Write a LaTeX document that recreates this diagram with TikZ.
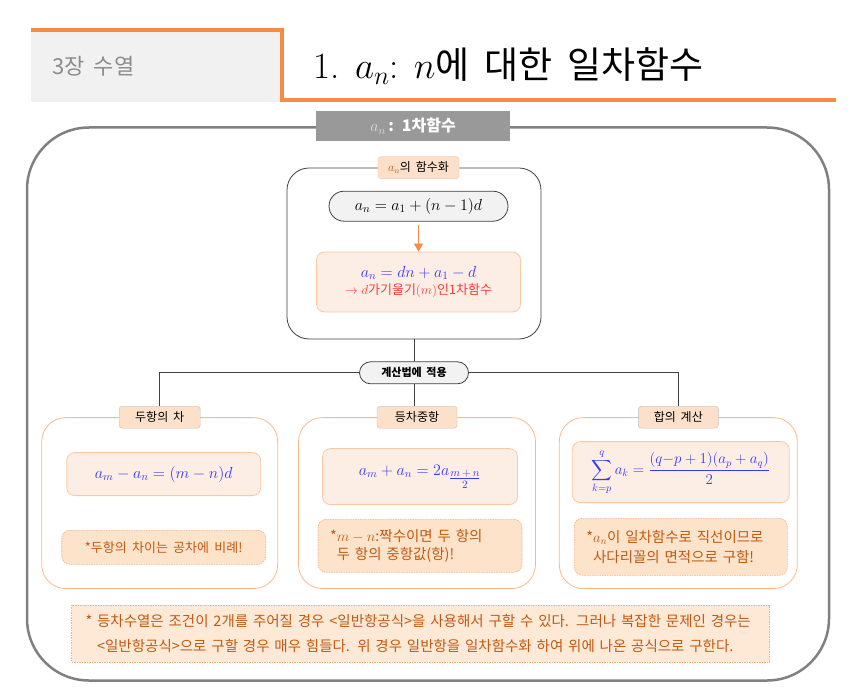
\RequirePackage{fix-cm}
\documentclass[tikz,border=0pt]{standalone}
\usepackage{amsmath}
\usepackage[no-math]{fontspec}
\newfontfamily\kr{Noto Sans CJK KR}
\newfontfamily\krw[WordSpace=1.8]{Noto Sans CJK KR}
\usetikzlibrary{positioning,arrows.meta,calc}
\definecolor{hdrorange}{HTML}{F58B45}
\definecolor{hdrgray}{HTML}{F1F1F1}
\definecolor{framegray}{HTML}{808080}
\definecolor{tagfill}{HTML}{FCE0CA}
\definecolor{eqfill}{HTML}{FDEEE5}
\definecolor{eqline}{HTML}{F8C9A4}
\definecolor{memofill}{HTML}{FDE3CA}
\definecolor{memoline}{HTML}{F4B183}
\definecolor{memotext}{HTML}{C05A12}
\definecolor{eqblue}{HTML}{3A3AF5}
\definecolor{eqred}{HTML}{FF3B3B}
\definecolor{boxline}{HTML}{F9B98C}
\tikzstyle{arrow} = [thick,-{Triangle[width=9pt,length=8pt]},hdrorange]
\tikzstyle{conn} = [draw=black!75, line width=0.8pt]

\begin{document}
\begin{tikzpicture}[x=1pt,y=-1pt]
\tikzset{%
	wrap/.style = {rectangle, draw=framegray, line width=2.5pt, rounded corners=62pt},
	cbox/.style = {rectangle, draw=black!75, line width=0.8pt, rounded corners=22pt},
	obox/.style = {rectangle, draw=boxline, line width=0.8pt, rounded corners=24pt, minimum height=171pt},
	tag/.style = {rectangle, draw=black!25, fill=tagfill, rounded corners=3pt, minimum height=22pt, inner sep=2pt, font=\krw\fontsize{12}{14}\selectfont},
	pill/.style = {rectangle, draw=black!75, fill=black!5, line width=0.8pt, rounded corners=11pt},
	eqbox/.style = {rectangle, draw=eqline, fill=eqfill, line width=0.8pt, rounded corners=8pt, text=eqblue, align=center},
	memo/.style = {rectangle, draw=memoline, fill=memofill, line width=0.6pt, dash pattern=on 1.5pt off 1pt, rounded corners=8pt, text=memotext, inner xsep=12pt, font=\krw\fontsize{14.5}{18}\selectfont}
}
\useasboundingbox (0,0) rectangle (866,692);

% header
\node(hd0) [rectangle, fill=hdrgray, minimum width=251pt, minimum height=72pt, inner sep=0pt, anchor=north west] at (31,30) {};
\node(hd1) [right=18pt of hd0.west, text=black!45, font=\krw\fontsize{22}{24}\selectfont] {3장 수열};
\node(hd2) [right=28pt of hd0.east, font=\fontsize{37}{40}\selectfont] {1. $a_n$: $n${\krw 에 대한 일차함수}};
\coordinate(hd3) at (836,100);
\draw [hdrorange, line width=4pt] (hd0.north west) -- (hd0.north east) |- (hd3);

% frame
\node(frm) [wrap, minimum width=802pt, minimum height=553pt] at (428,404) {};
\node(frt) [rectangle, fill=black!40, text=white, minimum width=194pt, minimum height=30pt, xshift=-15pt, font=\kr\bfseries\fontsize{16}{18}\selectfont] at (frm.north) {{\color{black!15}$a_n$}\,: 1차함수};

% function box
\node(fx0) [cbox, minimum width=254pt, minimum height=171pt] at (414,253.5) {};
\node(fx1) [tag, draw=eqline, minimum width=81pt, xshift=4.5pt] at (fx0.north) {{\color{memotext}$a_n$}의 함수화};
\node(fx2) [pill, rounded corners=15pt, minimum width=179pt, minimum height=30pt, below=12pt of fx1, font=\fontsize{16}{18}\selectfont] {$a_n=a_1+(n-1)d$};
\node(fx3) [eqbox, minimum width=204pt, minimum height=60pt, below=30pt of fx2] {%
	{\fontsize{16}{18}\selectfont $a_n=dn+a_1-d$}\\[3pt]
	{\color{eqred}\kr\fontsize{13}{15}\selectfont $\rightarrow d$가기울기$(m)$인1차함수}};
\draw [arrow, shorten <=3pt] (fx2) -- (fx3);

% calculation
\node(cal) [pill, minimum width=109pt, minimum height=22pt, below=22pt of fx0, font=\krw\bfseries\fontsize{11}{13}\selectfont] {계산법에 적용};

\node(b2) [obox, minimum width=237pt, below=33pt of cal, xshift=3pt] {};
\node(b1) [obox, minimum width=236pt, left=20pt of b2] {};
\node(b3) [obox, minimum width=238pt, right=23pt of b2] {};

\node(t1) [tag, minimum width=81pt] at (b1.north) {두항의 차};
\node(t2) [tag, minimum width=80pt] at (b2.north) {등차중항};
\node(t3) [tag, minimum width=80pt] at (b3.north) {합의 계산};

\node(f1) [eqbox, minimum width=194pt, minimum height=43pt, below=35pt of b1.north, xshift=4pt, font=\fontsize{16}{18}\selectfont] {$a_m-a_n=(m-n)d$};
\node(n1) [memo, minimum width=204pt, minimum height=34pt, below=34pt of f1, align=center, font=\kr\fontsize{13}{18}\selectfont] {*두항의 차이는 공차에 비례!};

\node(f2) [eqbox, minimum width=195pt, minimum height=56pt, below=31pt of b2.north, xshift=3pt, font=\fontsize{16}{18}\selectfont] {$a_m+a_n=2a_{\textstyle\frac{m\,+\,n}{2}}$};
\node(n2) [memo, text width=180pt, minimum height=53pt, below=14pt of f2, align=left] {*$m-n$:짝수이면 두 항의\\\phantom{*}두 항의 중항값(항)!};

\node(f3) [eqbox, minimum width=217pt, minimum height=61pt, below=24pt of b3.north, xshift=2.5pt, font=\fontsize{15}{17}\selectfont] {$\displaystyle\sum_{k=p}^{q}a_k=\frac{(q{-}p+1)(a_p+a_q)}{2}$};
\node(n3) [memo, text width=189pt, minimum height=57pt, below=15pt of f3, align=left, font=\krw\fontsize{14.5}{20}\selectfont] {*$a_n$이 일차함수로 직선이므로\\\phantom{*}사다리꼴의 면적으로 구함!};

% footer
\node(ft) [memo, rounded corners=0pt, fill=memofill!80, text width=670pt, inner xsep=14pt, minimum height=57pt, below=16pt of b2, xshift=3.5pt, align=left, font=\krw\fontsize{14.5}{25}\selectfont] {* 등차수열은 조건이 2개를 주어질 경우 <일반항공식>을 사용해서 구할 수 있다. 그러나 복잡한 문제인 경우는\\\phantom{*} <일반항공식>으로 구할 경우 매우 힘들다. 위 경우 일반항을 일차함수화 하여 위에 나온 공식으로 구한다.};

\draw [conn] (fx0) -- (cal);
\draw [conn] (cal) -- (cal |- t2.north);
\draw [conn] (cal.west) -| (t1.north);
\draw [conn] (cal.east) -| (t3.north);
\end{tikzpicture}
\end{document}
